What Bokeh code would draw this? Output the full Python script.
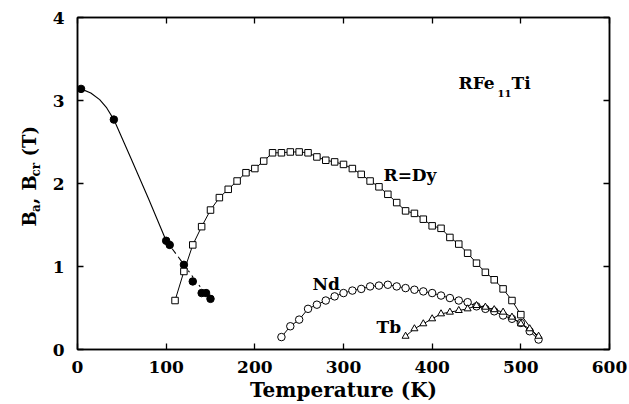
import math
from bokeh.plotting import figure
from bokeh.layouts import row
from bokeh.models import LinearAxis, Label, FixedTicker, CustomJSTickFormatter
from bokeh.core.properties import value
from bokeh.embed import file_html
from bokeh.resources import INLINE

# ---------------- data ----------------
# B_a (filled circles)
ba_T = [4, 41, 100, 104, 120, 130, 140, 145, 150]
ba_B = [3.14, 2.77, 1.31, 1.26, 1.02, 0.82, 0.68, 0.68, 0.61]
# guide curve through B_a (solid / dashed / dotted parts)
fit_solid_T = [4, 15, 25, 33, 41, 60, 80, 100]
fit_solid_B = [3.14, 3.09, 3.01, 2.91, 2.77, 2.31, 1.82, 1.31]
fit_dash_T = [100, 112, 125]
fit_dash_B = [1.31, 1.14, 0.95]
fit_dot_T = [125, 135, 145]
fit_dot_B = [0.95, 0.80, 0.67]

# R = Dy (open squares)
dy_T = [110, 120, 130, 140, 150, 160, 170, 180, 190, 200, 210, 220, 230, 240, 250,
        260, 270, 280, 290, 300, 310, 320, 330, 340, 350, 360, 370, 380, 390, 400,
        410, 420, 430, 440, 450, 460, 470, 480, 490, 500]
dy_B = [0.59, 0.94, 1.26, 1.48, 1.68, 1.83, 1.93, 2.03, 2.13, 2.18, 2.27, 2.37, 2.37, 2.38, 2.38,
        2.37, 2.32, 2.28, 2.26, 2.23, 2.18, 2.11, 2.03, 1.96, 1.87, 1.77, 1.67, 1.64, 1.57, 1.49,
        1.46, 1.35, 1.27, 1.16, 1.04, 0.93, 0.84, 0.73, 0.59, 0.42]
dy_tail_T = [500, 520]
dy_tail_B = [0.42, 0.13]

# Nd (open circles)
nd_T = [230, 240, 250, 260, 270, 280, 290, 300, 310, 320, 330, 340, 350, 360, 370,
        380, 390, 400, 410, 420, 430, 440, 450, 460, 470, 480, 490, 500, 510, 520]
nd_B = [0.15, 0.28, 0.36, 0.49, 0.54, 0.59, 0.64, 0.68, 0.71, 0.73, 0.76, 0.77, 0.78, 0.76, 0.74,
        0.72, 0.70, 0.68, 0.65, 0.62, 0.59, 0.57, 0.52, 0.49, 0.46, 0.41, 0.37, 0.32, 0.22, 0.12]

# Tb (open triangles)
tb_T = [370, 380, 390, 400, 410, 420, 430, 440, 450, 460, 470, 480, 490, 500, 510, 520]
tb_B = [0.16, 0.25, 0.31, 0.37, 0.43, 0.45, 0.47, 0.49, 0.53, 0.51, 0.48, 0.45, 0.39, 0.31, 0.25, 0.16]

x_ticks = [0, 100, 200, 300, 400, 500, 600]
y_ticks = [0, 1, 2, 3, 4]

# y-axis title pieces and whether each is a subscript
ylabel_parts = ["B", "a", ",", "B", "cr", "(T)"]
ylabel_sub = [False, True, False, False, True, False]

FONT = "DejaVu Serif"
LW = 46  # width of the strip that carries the rotated y title
H = 404

# ---------------- main figure ----------------
p = figure(width=629 - LW, height=H, x_range=(0, 600), y_range=(0, 4),
           output_backend="svg", toolbar_location=None,
           min_border_left=77 - LW, min_border_right=20, min_border_top=17, min_border_bottom=54)
p.xgrid.visible = False
p.ygrid.visible = False
p.outline_line_color = "black"
p.outline_line_width = 1.5
p.background_fill_color = "white"
p.border_fill_color = "white"

def style_axis(ax, ticks):
    ax.ticker = FixedTicker(ticks=ticks)
    ax.minor_tick_line_color = None
    ax.major_tick_in = 6
    ax.major_tick_out = 0
    ax.major_tick_line_width = 1.3
    ax.axis_line_width = 1.5
    ax.axis_line_color = "black"
    ax.major_tick_line_color = "black"
    ax.major_label_text_font = FONT
    ax.major_label_text_font_style = "bold"
    ax.major_label_text_font_size = "17px"
    ax.major_label_text_color = "black"

style_axis(p.xaxis[0], x_ticks)
style_axis(p.yaxis[0], y_ticks)
p.xaxis[0].major_label_standoff = 11
p.yaxis[0].major_label_standoff = 13
p.xaxis[0].axis_label = "Temperature (K)"
p.xaxis[0].axis_label_text_font = FONT
p.xaxis[0].axis_label_text_font_style = "bold"
p.xaxis[0].axis_label_text_font_size = "20px"
p.xaxis[0].axis_label_text_color = "black"
p.xaxis[0].axis_label_standoff = 2

blank = CustomJSTickFormatter(code="return ''")
top = LinearAxis()
style_axis(top, x_ticks)
top.formatter = blank
top.major_label_standoff = 0
top.major_label_text_font_size = "1px"
p.add_layout(top, "above")
right = LinearAxis()
style_axis(right, y_ticks)
right.formatter = blank
right.major_label_standoff = 0
right.major_label_text_font_size = "1px"
p.add_layout(right, "right")

# ---------------- series ----------------
p.line(fit_solid_T, fit_solid_B, line_color="black", line_width=1.1)
p.line(fit_dash_T, fit_dash_B, line_color="black", line_width=1.1, line_dash="6 4")
p.line(fit_dot_T, fit_dot_B, line_color="black", line_width=1.1, line_dash="2 4")
p.scatter(ba_T, ba_B, marker="circle", size=7.5, fill_color="black", line_color="black")

p.line(dy_T, dy_B, line_color="black", line_width=1)
p.line(dy_tail_T, dy_tail_B, line_color="black", line_width=1)
p.scatter(dy_T, dy_B, marker="square", size=6.5, fill_color="white", line_color="black", line_width=1)

p.line(nd_T, nd_B, line_color="black", line_width=1)
p.scatter(nd_T, nd_B, marker="circle", size=7.5, fill_color="white", line_color="black", line_width=1)

p.line(tb_T, tb_B, line_color="black", line_width=1)
p.scatter(tb_T, tb_B, marker="triangle", size=7, fill_color="white", line_color="black", line_width=1)

# ---------------- annotations ----------------
def px_T(px):
    return (px - 77) * 600.0 / 532.0

def px_B(py):
    return (350 - py) / 83.0

def txt(text, px, py, size):
    p.add_layout(Label(x=px_T(px), y=px_B(py), text=text,
                       text_font=FONT, text_font_style="bold", text_font_size=size,
                       text_color="black", text_align="left", text_baseline="alphabetic"))

txt("RFe", 458, 83, "17px")
txt("11", 497, 94, "10px")
txt("Ti", 511, 83, "17px")
txt("R=Dy", 383, 175, "17px")
txt("Nd", 312, 284, "17px")
txt("Tb", 376, 327, "17px")

# ---------------- strip with rotated y title ----------------
# its frame is aligned with the main frame by the row layout, so share the y range
q = figure(width=LW, height=H, x_range=(0, LW), y_range=p.y_range,
           output_backend="svg", toolbar_location=None,
           x_axis_type=None, y_axis_type=None,
           min_border_left=0, min_border_right=0, min_border_top=17, min_border_bottom=54)
q.xgrid.visible = False
q.ygrid.visible = False
q.outline_line_color = None
q.background_fill_color = "white"
q.border_fill_color = "white"

# baseline x (px) and start y (px from top) of each piece
piece_x = [29, 35, 29, 29, 35, 29]
piece_y = [227, 212.5, 204.5, 191, 177, 157]
for t, sub, bx, by in zip(ylabel_parts, ylabel_sub, piece_x, piece_y):
    q.text(x=[bx], y=[px_B(by)], text=[t], angle=math.pi / 2,
           text_font=value(FONT), text_font_style="bold",
           text_font_size="12px" if sub else "18px",
           text_color="black", text_align="left", text_baseline="alphabetic")

layout = row(q, p, spacing=0)
open("out.html", "w").write(file_html(layout, INLINE))
